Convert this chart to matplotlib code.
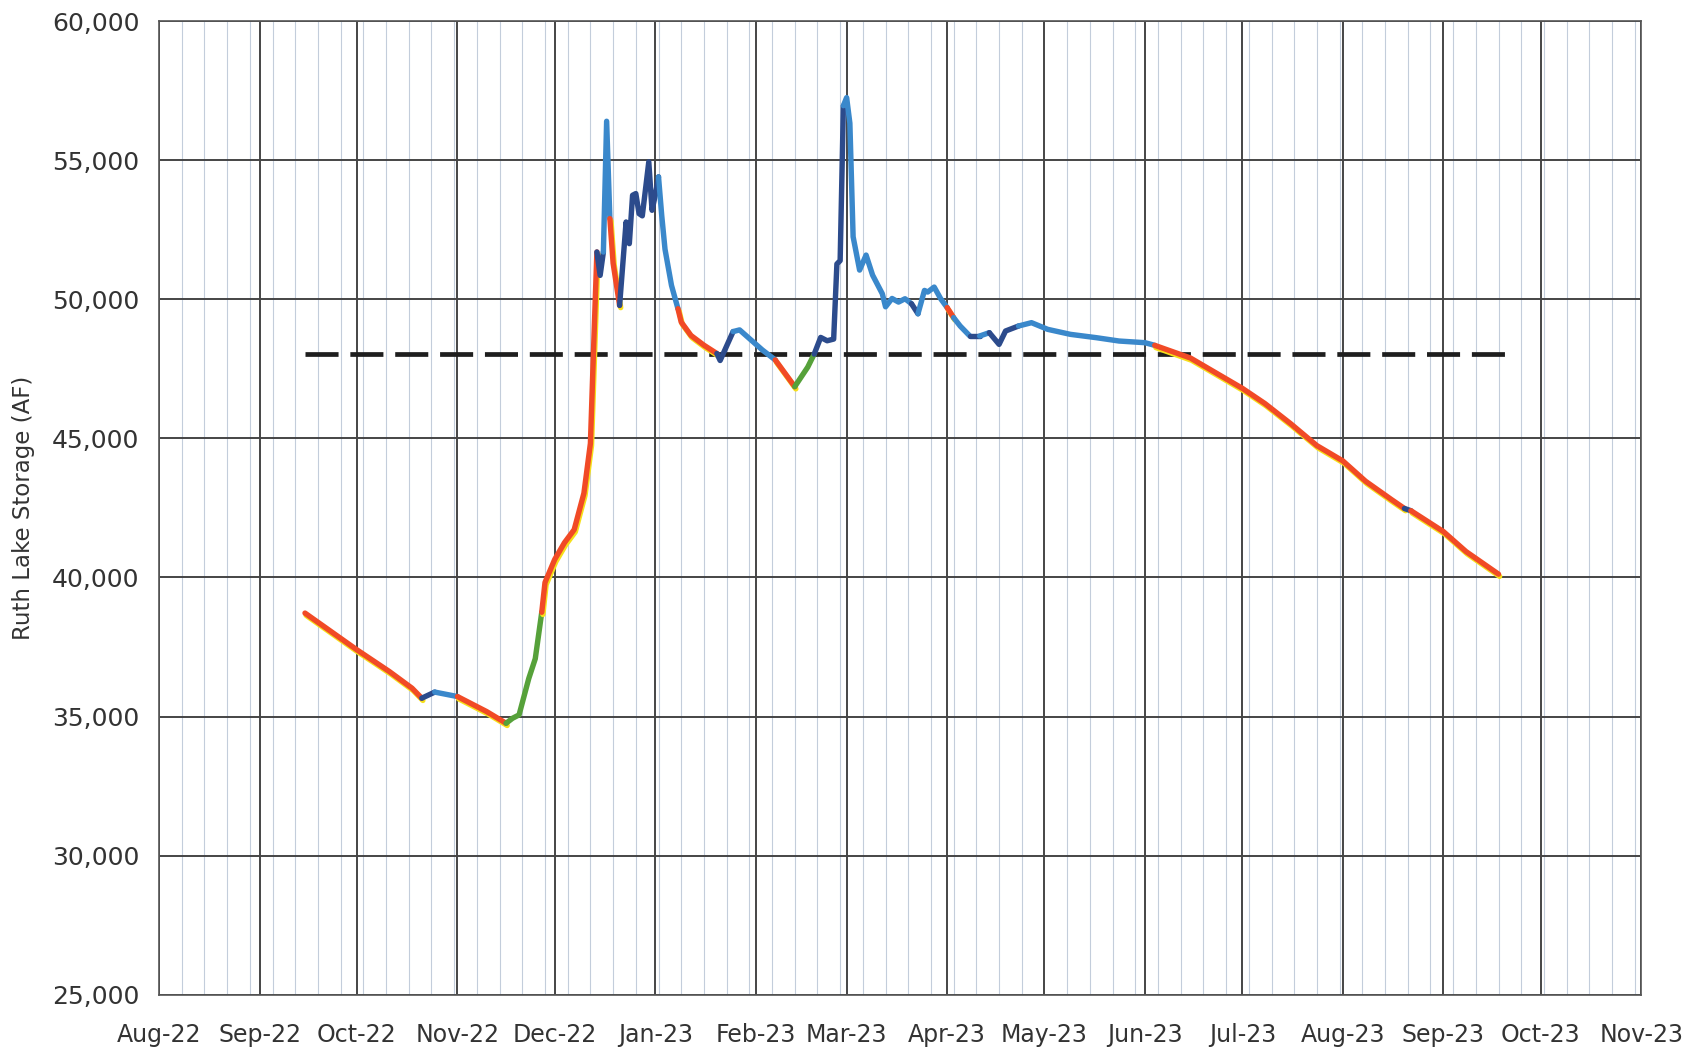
import matplotlib
matplotlib.use('Agg')
import matplotlib.pyplot as plt
import matplotlib.dates as mdates
import matplotlib.patheffects as pe
import pandas as pd
from matplotlib.ticker import FuncFormatter, MultipleLocator, FixedLocator

# daily storage readings, Ruth Lake (acre-feet)
dates = [
    '2022-09-15', '2022-09-23', '2022-10-01', '2022-10-11', '2022-10-18', '2022-10-21',
    '2022-10-25', '2022-11-01', '2022-11-04', '2022-11-10', '2022-11-16', '2022-11-18',
    '2022-11-20', '2022-11-23', '2022-11-25', '2022-11-27', '2022-11-28', '2022-12-01',
    '2022-12-04', '2022-12-07', '2022-12-10', '2022-12-12', '2022-12-13', '2022-12-14',
    '2022-12-15', '2022-12-16', '2022-12-17', '2022-12-18', '2022-12-19', '2022-12-21',
    '2022-12-23', '2022-12-24', '2022-12-25', '2022-12-26', '2022-12-27', '2022-12-28',
    '2022-12-30', '2022-12-31', '2023-01-01', '2023-01-02', '2023-01-03', '2023-01-04',
    '2023-01-06', '2023-01-08', '2023-01-09', '2023-01-12', '2023-01-16', '2023-01-20',
    '2023-01-21', '2023-01-25', '2023-01-27', '2023-02-03', '2023-02-07', '2023-02-13',
    '2023-02-17', '2023-02-19', '2023-02-21', '2023-02-23', '2023-02-25', '2023-02-26',
    '2023-02-27', '2023-02-28', '2023-03-01', '2023-03-02', '2023-03-03', '2023-03-05',
    '2023-03-07', '2023-03-09', '2023-03-12', '2023-03-13', '2023-03-15', '2023-03-17',
    '2023-03-19', '2023-03-21', '2023-03-23', '2023-03-25', '2023-03-26', '2023-03-28',
    '2023-03-30', '2023-04-01', '2023-04-03', '2023-04-05', '2023-04-08', '2023-04-11',
    '2023-04-14', '2023-04-17', '2023-04-19', '2023-04-23', '2023-04-27', '2023-05-02',
    '2023-05-09', '2023-05-17', '2023-05-24', '2023-06-01', '2023-06-04', '2023-06-15',
    '2023-06-23', '2023-07-01', '2023-07-08', '2023-07-16', '2023-07-24', '2023-08-01',
    '2023-08-08', '2023-08-16', '2023-08-20', '2023-08-22', '2023-09-01', '2023-09-08',
    '2023-09-18',
]
storage = [
    38720, 38060, 37400, 36620, 36020, 35660,
    35880, 35720, 35540, 35180, 34760, 34940,
    35060, 36370, 37080, 38750, 39820, 40650,
    41250, 41720, 43030, 44820, 48300, 51700,
    50860, 51700, 56400, 52900, 51300, 49780,
    52780, 52000, 53740, 53800, 53080, 53000,
    54940, 53200, 53740, 54400, 53000, 51800,
    50500, 49660, 49180, 48700, 48350, 48050,
    47800, 48840, 48900, 48180, 47820, 46860,
    47560, 48030, 48630, 48510, 48570, 51270,
    51390, 56960, 57250, 56330, 52250, 51050,
    51590, 50870, 50200, 49730, 50030, 49900,
    50020, 49840, 49480, 50320, 50260, 50440,
    50020, 49700, 49340, 49040, 48680, 48680,
    48800, 48380, 48860, 49040, 49160, 48920,
    48740, 48620, 48500, 48440, 48345, 47890,
    47345, 46800, 46250, 45520, 44740, 44190,
    43460, 42800, 42480, 42400, 41650, 40930,
    40120,
]
# operating condition for the segment that starts at each reading
status = (
    'rrrrrn' 'brrrgg' 'gggrrr' 'rrrrrn' 'nbbrrn' 'nnnnnn'
    'nnnbbb' 'brrrrn' 'nbbbrg' 'gnnnnn' 'nbbbbb' 'bbbbbb'
    'bnbbbb' 'brbbnb' 'nnnbbb' 'bbbbrr' 'rrrrrr' 'rrnrrr'
    'r'
)

target_start = '2022-09-15'
target_end = '2023-09-20'
target_af = 48050

palette = {'r': '#f14a26', 'g': '#56a13a', 'b': '#3a88cb', 'n': '#2c4b8c'}

x = pd.to_datetime(dates)

fig = plt.figure(figsize=(16.92, 10.56), dpi=100)
ax = fig.add_axes([0.094, 0.058, 0.876, 0.922])

ax.set_xlim(pd.Timestamp('2022-08-01'), pd.Timestamp('2023-11-01'))
ax.set_ylim(25000, 60000)

# grid: months dark, weeks light
ax.xaxis.set_major_locator(mdates.MonthLocator())
ax.xaxis.set_major_formatter(mdates.DateFormatter('%b-%y'))
weeks = pd.date_range('2022-08-01', '2023-11-01', freq='7D')
ax.xaxis.set_minor_locator(FixedLocator(mdates.date2num(weeks)))
ax.yaxis.set_major_locator(MultipleLocator(5000))
ax.yaxis.set_major_formatter(FuncFormatter(lambda v, p: f'{v:,.0f}'))

ax.grid(which='major', color='#454545', lw=1.4)
ax.grid(which='minor', axis='x', color='#c3cddb', lw=0.8)
ax.set_axisbelow(True)
for s in ax.spines.values():
    s.set_color('#555555')
    s.set_linewidth(1.2)

ax.tick_params(which='both', length=0)
ax.tick_params(axis='x', labelsize=17, pad=20, colors='#333333')
ax.tick_params(axis='y', labelsize=18, pad=14, colors='#333333')
ax.set_ylabel('Ruth Lake Storage (AF)', fontsize=16.5, color='#333333', labelpad=12)

# target line
ax.plot(pd.to_datetime([target_start, target_end]), [target_af, target_af],
        color='#1e1e1e', lw=3.4, dashes=(7, 2.5), zorder=3)

# storage trace, coloured by condition
i = 0
n = len(x)
while i < n - 1:
    j = i
    while j + 1 < n - 1 and status[j + 1] == status[i]:
        j += 1
    code = status[i]
    effects = None
    if code == 'r':
        effects = [pe.SimpleLineShadow(offset=(0.8, -1.6), shadow_color='#f6df1a', alpha=1),
                   pe.Normal()]
    ax.plot(x[i:j + 2], storage[i:j + 2], color=palette[code], lw=3.9,
            solid_capstyle='round', solid_joinstyle='round',
            path_effects=effects, zorder=4)
    i = j + 1

fig.savefig('out.png', dpi=100, facecolor='white')
